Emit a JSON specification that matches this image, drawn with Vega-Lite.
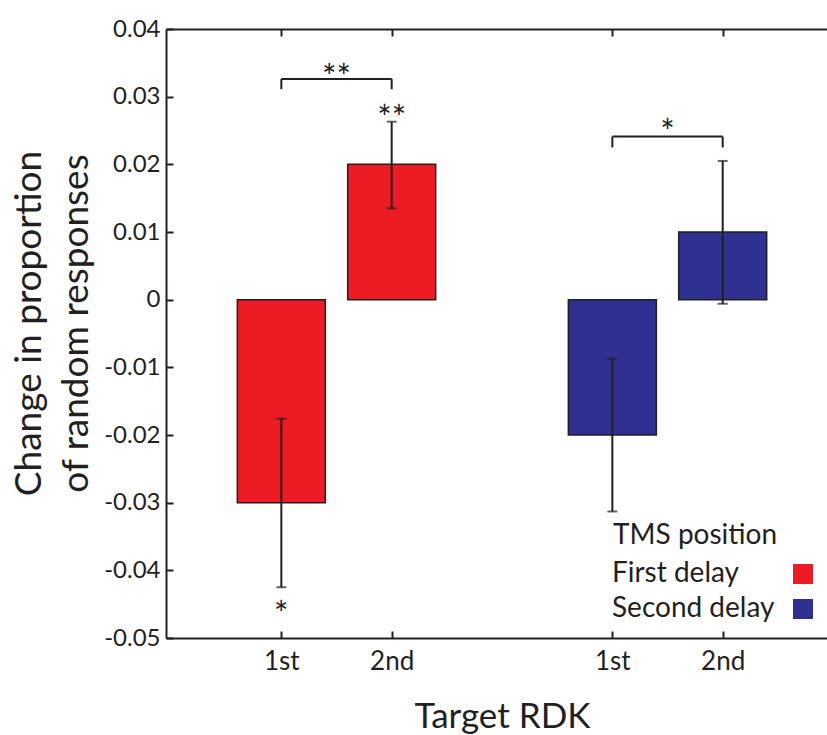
{
  "$schema": "https://vega.github.io/schema/vega-lite/v6.json",
  "width": 661,
  "height": 609,
  "autosize": {"type": "none"},
  "padding": {"left": 166, "top": 29, "right": 0, "bottom": 97},
  "background": "white",
  "config": {
    "view": {"stroke": null},
    "font": "Lato",
    "axis": {
      "grid": false,
      "domainColor": "#231F20",
      "domainWidth": 2,
      "tickColor": "#231F20",
      "tickWidth": 2,
      "tickSize": -7,
      "labelColor": "#231F20",
      "titleColor": "#231F20",
      "labelFont": "Lato",
      "titleFont": "Lato",
      "titleFontWeight": "normal"
    },
    "legend": {
      "titleFont": "Lato",
      "labelFont": "Lato",
      "titleFontWeight": "normal",
      "titleColor": "#231F20",
      "labelColor": "#231F20"
    }
  },
  "datasets": {
    "bars": [
      {"target": "1st", "delay": "First delay", "pos": 1, "value": -0.030, "lo": -0.0425, "hi": -0.0176},
      {"target": "2nd", "delay": "First delay", "pos": 2, "value": 0.020, "lo": 0.0135, "hi": 0.0263},
      {"target": "1st", "delay": "Second delay", "pos": 4, "value": -0.020, "lo": -0.0313, "hi": -0.0087},
      {"target": "2nd", "delay": "Second delay", "pos": 5, "value": 0.010, "lo": -0.0006, "hi": 0.0205}
    ],
    "brackets": [
      {"x": 1, "x2": 2, "y": 0.0326, "y2": 0.0326},
      {"x": 1, "x2": 1, "y": 0.0311, "y2": 0.0326},
      {"x": 2, "x2": 2, "y": 0.0311, "y2": 0.0326},
      {"x": 4, "x2": 5, "y": 0.0241, "y2": 0.0241},
      {"x": 4, "x2": 4, "y": 0.0225, "y2": 0.0241},
      {"x": 5, "x2": 5, "y": 0.0225, "y2": 0.0241}
    ],
    "stars": [
      {"pos": 1.5, "y": 0.0341, "label": "**"},
      {"pos": 2, "y": 0.0281, "label": "**"},
      {"pos": 1, "y": -0.0452, "label": "*"},
      {"pos": 4.5, "y": 0.026, "label": "*"}
    ]
  },
  "layer": [
    {
      "data": {"name": "bars"},
      "mark": {"type": "bar", "size": 88, "stroke": "#231F20", "strokeWidth": 1.5},
      "encoding": {
        "x": {
          "field": "pos", "type": "quantitative",
          "scale": {"domain": [0, 5.9], "nice": false, "zero": false},
          "axis": {
            "orient": "bottom",
            "values": [1, 2, 4, 5],
            "labelExpr": "datum.value == 1 || datum.value == 4 ? '1st' : '2nd'",
            "labelFontSize": 26,
            "labelPadding": 17,
            "title": "Target RDK",
            "titleFontSize": 35,
            "titleX": 336,
            "titleY": 89,
            "titleAlign": "center",
            "titleBaseline": "alphabetic"
          }
        },
        "y": {
          "field": "value", "type": "quantitative",
          "scale": {"domain": [-0.05, 0.04], "nice": false},
          "axis": {
            "orient": "left",
            "values": [-0.05, -0.04, -0.03, -0.02, -0.01, 0, 0.01, 0.02, 0.03, 0.04],
            "labelExpr": "datum.value == 0 ? '0' : (datum.value < 0 ? '-' : '') + format(abs(datum.value), '.2f')",
            "labelFontSize": 24,
            "labelPadding": 13,
            "title": ["Change in proportion", "of random responses"],
            "titleFontSize": 37,
            "titleLineHeight": 47,
            "titleAngle": -90,
            "titleX": -126,
            "titleY": 294,
            "titleAlign": "center",
            "titleBaseline": "alphabetic"
          }
        },
        "color": {
          "field": "delay", "type": "nominal",
          "scale": {"domain": ["First delay", "Second delay"], "range": ["#ED1C24", "#2E3192"]},
          "legend": {
            "title": "TMS position",
            "orient": "none",
            "legendX": 447,
            "legendY": 493,
            "padding": 0,
            "titleFontSize": 28,
            "labelFontSize": 28,
            "labelLimit": 400,
            "symbolType": "square",
            "symbolSize": 400,
            "symbolStrokeWidth": 0,
            "symbolOffset": 176,
            "labelOffset": -205,
            "rowPadding": 7,
            "titlePadding": 10
          }
        }
      }
    },
    {
      "data": {"name": "bars"},
      "mark": {"type": "rule", "color": "#231F20", "strokeWidth": 2},
      "encoding": {
        "x": {"field": "pos", "type": "quantitative",
          "axis": {"orient": "top", "values": [1, 2, 4, 5], "labels": false, "title": null}},
        "y": {"field": "lo", "type": "quantitative"},
        "y2": {"field": "hi"}
      }
    },
    {
      "mark": {"type": "rule", "color": "#231F20", "strokeWidth": 2},
      "encoding": {"y": {"datum": 0, "type": "quantitative"}}
    },
    {
      "data": {"name": "bars"},
      "mark": {"type": "tick", "orient": "horizontal", "color": "#231F20", "size": 10, "thickness": 2},
      "encoding": {
        "x": {"field": "pos", "type": "quantitative", "axis": null},
        "y": {"field": "lo", "type": "quantitative"}
      }
    },
    {
      "data": {"name": "bars"},
      "mark": {"type": "tick", "orient": "horizontal", "color": "#231F20", "size": 10, "thickness": 2},
      "encoding": {
        "x": {"field": "pos", "type": "quantitative", "axis": null},
        "y": {"field": "hi", "type": "quantitative"}
      }
    },
    {
      "data": {"name": "brackets"},
      "mark": {"type": "rule", "color": "#231F20", "strokeWidth": 2},
      "encoding": {
        "x": {"field": "x", "type": "quantitative", "axis": null},
        "x2": {"field": "x2"},
        "y": {"field": "y", "type": "quantitative"},
        "y2": {"field": "y2"}
      }
    },
    {
      "data": {"name": "stars"},
      "mark": {"type": "text", "font": "Lato", "fontSize": 34, "color": "#231F20", "baseline": "alphabetic", "align": "center", "dy": 20},
      "encoding": {
        "x": {"field": "pos", "type": "quantitative", "axis": null},
        "y": {"field": "y", "type": "quantitative"},
        "text": {"field": "label"}
      }
    }
  ]
}
